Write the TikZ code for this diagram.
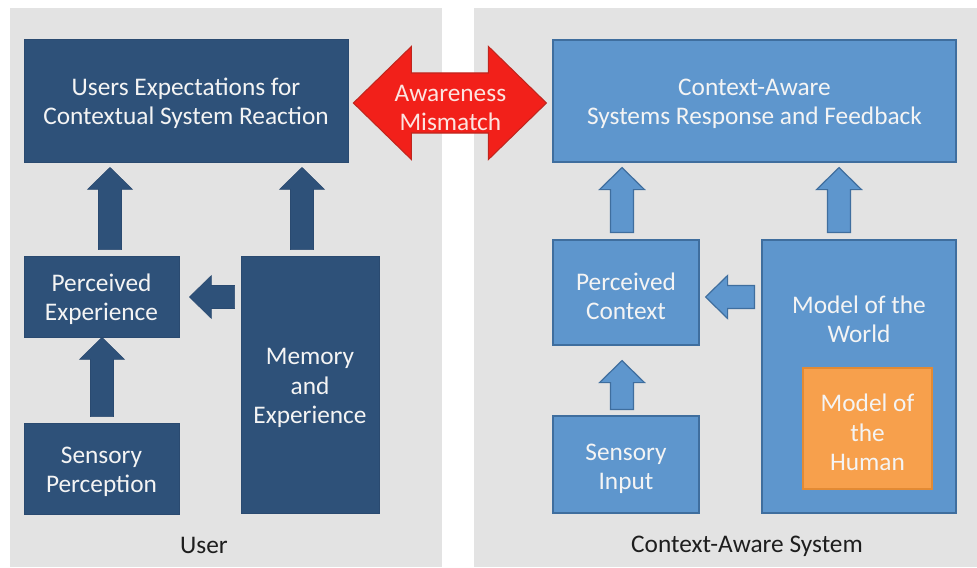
\documentclass[tikz,border=0pt]{standalone}
\usepackage{fontspec}
\setmainfont{Carlito}
\usetikzlibrary{calc}
\definecolor{panel}{HTML}{E3E3E3}
\definecolor{dblue}{HTML}{2E5179}
\definecolor{dblueline}{HTML}{2A4A70}
\definecolor{lblue}{HTML}{5E96CD}
\definecolor{lblueline}{HTML}{3F6E9E}
\definecolor{orng}{HTML}{F7A04C}
\definecolor{orngline}{HTML}{E28A34}
\definecolor{redfill}{HTML}{F2201A}
\definecolor{redline}{HTML}{C0261E}
\definecolor{labeltext}{HTML}{1E1E1E}
\definecolor{redtext}{HTML}{FCE4E0}
\definecolor{boxwhite}{HTML}{F4F4F4}
\tikzset{
  boxtext/.style={font=\fontsize{19}{22}\selectfont, align=center, text=boxwhite},
  box/.style={rectangle, inner sep=0pt, boxtext},
  dbox/.style={box, fill=dblue, draw=dblueline, line width=0.6pt},
  lbox/.style={box, fill=lblue, draw=lblueline, line width=0.9pt},
  obox/.style={box, fill=orng, draw=orngline, line width=0.9pt},
  paneltext/.style={font=\fontsize{19}{22}\selectfont, text=labeltext},
  darrow/.style={fill=dblue, draw=dblueline, line width=0.4pt},
  larrow/.style={fill=lblue, draw=lblueline, line width=0.9pt, line join=miter},
  blockup/.style={to path={let \p1=(\tikztostart), \p2=(\tikztotarget) in
    (\x1-8.625pt,\y1) -- (\x1-8.625pt,\y2-16.5pt) -- (\x1-16.875pt,\y2-16.5pt)
    -- (\x1,\y2) -- (\x1+16.875pt,\y2-16.5pt) -- (\x1+8.625pt,\y2-16.5pt)
    -- (\x1+8.625pt,\y1) -- cycle}},
  blockleft/.style={to path={let \p1=(\tikztostart), \p2=(\tikztotarget) in
    (\x1,\y1+8.625pt) -- (\x2+16.5pt,\y1+8.625pt) -- (\x2+16.5pt,\y1+16.125pt)
    -- (\x2,\y1) -- (\x2+16.5pt,\y1-16.125pt) -- (\x2+16.5pt,\y1-8.625pt)
    -- (\x1,\y1-8.625pt) -- cycle}},
  blockboth/.style={to path={let \p1=(\tikztostart), \p2=(\tikztotarget) in
    (\x1,\y1) -- (\x1+43.5pt,\y1+42.4pt) -- (\x1+43.5pt,\y1+22.5pt)
    -- (\x2-43.5pt,\y1+22.5pt) -- (\x2-43.5pt,\y1+42.4pt) -- (\x2,\y1)
    -- (\x2-43.5pt,\y1-42.4pt) -- (\x2-43.5pt,\y1-22.5pt)
    -- (\x1+43.5pt,\y1-22.5pt) -- (\x1+43.5pt,\y1-42.4pt) -- cycle}}
}
\begin{document}
\begin{tikzpicture}[x=0.75pt,y=-0.75pt]
\useasboundingbox (0,0) rectangle (977,567);
\fill[white] (0,0) rectangle (977,567);
\fill[panel] (10,8) rectangle (442,567);
\fill[panel] (474,8) rectangle (977,567);

% ---- User side ----
\node[dbox, minimum width=243pt, minimum height=92.25pt] (ue) at (186,100.5) {};
\node[boxtext] (uet) at (186,103.5) {Users Expectations for\\Contextual System Reaction};
\node[dbox, minimum width=116.25pt, minimum height=60.75pt] (pe) at (101.5,296.5) {};
\node[boxtext] (pet) at (101.5,299.5) {Perceived\\Experience};
\node[dbox, minimum width=103.5pt, minimum height=192.75pt] (mem) at (310,384.5) {};
\node[boxtext] (memt) at (310,388) {Memory\\and\\Experience};
\node[dbox, minimum width=116.25pt, minimum height=68.25pt] (sp) at (101.5,468.5) {};
\node[boxtext] (spt) at (101.5,472) {Sensory\\Perception};
\node[paneltext] (user) at (204,545) {User};

\draw[darrow, blockup] ($(pe.north)+(8.5,-6)$) to ($(ue.south)+(0,5)$);
\draw[darrow, blockup] ($(mem.north)+(-8,-6)$) to ($(ue.south)+(0,5)$);
\draw[darrow, blockup] ($(sp.north)+(0.5,-6)$) to ($(pe.south)+(0,0)$);
\draw[darrow, blockleft] ($(mem.west |- pe.east)+(-6,0.5)$) to ($(pe.east)+(10,0)$);

% ---- System side ----
\node[lbox, minimum width=302.25pt, minimum height=91.5pt] (rt) at (754.5,101) {};
\node[boxtext] (rtt) at (754.5,103.5) {Context-Aware\\Systems Response and Feedback};
\node[lbox, minimum width=109.5pt, minimum height=78.75pt] (pc) at (626,292.5) {};
\node[boxtext] (pct) at (626,296) {Perceived\\Context};
\node[lbox, minimum width=145.5pt, minimum height=204.75pt] (mw) at (859,376.5) {};
\node[boxtext] (mwt) at (859,319.5) {Model of the\\World};
\node[obox, minimum width=96.75pt, minimum height=90.75pt] (mh) at (867.5,428.5) {};
\node[boxtext] (mht) at (867.5,432.5) {Model of\\the\\Human};
\node[lbox, minimum width=109.5pt, minimum height=72.75pt] (si) at (626,464.5) {};
\node[boxtext] (sit) at (626,468.5) {Sensory\\Input};
\node[paneltext] (cas) at (747,546) {Context-Aware System};

\draw[larrow, blockup] ($(pc.north)+(-4,-7)$) to ($(rt.south)+(0,5)$);
\draw[larrow, blockup] ($(mw.north)+(-20,-7)$) to ($(rt.south)+(0,5)$);
\draw[larrow, blockup] ($(si.north)+(-4,-6)$) to ($(pc.south)+(0,15)$);
\draw[larrow, blockleft] ($(mw.west |- pc.east)+(-7,4.5)$) to ($(pc.east)+(6,0)$);

% ---- Awareness mismatch ----
\draw[fill=redfill, draw=redline, line width=0.8pt, blockboth]
  ($(ue.east)+(5,2.5)$) to ($(rt.west)+(-6,2)$);
\node[boxtext, text=redtext] (am) at ($(ue.east)!0.5!(rt.west)+(0,7.5)$) {Awareness\\Mismatch};
\end{tikzpicture}
\end{document}
